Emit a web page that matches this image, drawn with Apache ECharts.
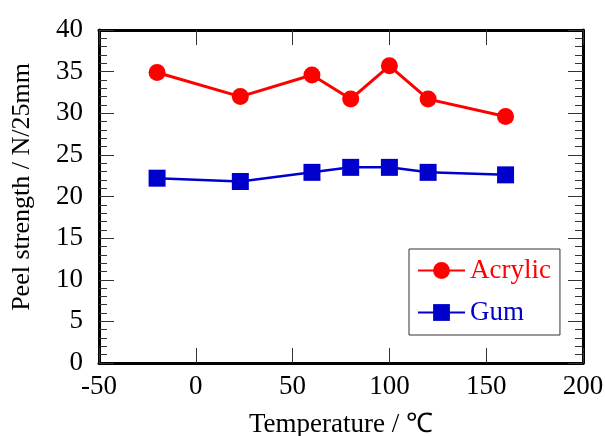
<!DOCTYPE html>
<html>
<head>
<meta charset="utf-8">
<script src="https://cdn.jsdelivr.net/npm/echarts@6/dist/echarts.min.js"></script>
<style>html,body{margin:0;padding:0;background:#fff}#c{width:605px;height:436px}</style>
</head>
<body>
<div id="c"></div>
<script>
var temps = [-20, 23, 60, 80, 100, 120, 160];
var acrylic = [34.9, 32.0, 34.6, 31.7, 35.7, 31.7, 29.6];
var gum = [22.2, 21.8, 22.9, 23.5, 23.5, 22.9, 22.6];
var seriesNames = ['Acrylic', 'Gum'];
var xTitle = 'Temperature / \u2103';
var yTitle = 'Peel strength / N/25mm';

function pairs(xs, ys) { return xs.map(function (x, i) { return [x, ys[i]]; }); }

var FONT = "'Liberation Serif', 'Times New Roman', serif";
var FS = 27;
var lineAx = { show: true, onZero: false, lineStyle: { color: '#000', width: 3 } };
var tickAx = { show: true, inside: true, length: 15, lineStyle: { color: '#333', width: 1 } };
var minorAx = { show: true, splitNumber: 5, length: 8, lineStyle: { color: '#333', width: 1 } };

var chart = echarts.init(document.getElementById('c'), null, { renderer: 'canvas' });
chart.setOption({
  animation: false,
  backgroundColor: '#fff',
  textStyle: { fontFamily: FONT },
  grid: { left: 99, right: 22, top: 30, bottom: 73, containLabel: false, outerBoundsMode: 'none' },
  graphic: [
    { type: 'text', x: 22, y: 187, rotation: Math.PI / 2,
      style: { text: yTitle, fill: '#000', font: '26px ' + FONT, textAlign: 'center', textVerticalAlign: 'middle' } }
  ],
  xAxis: [
    { type: 'value', position: 'bottom', min: -50, max: 200, interval: 50,
      axisLine: lineAx, axisTick: tickAx, splitLine: { show: false },
      axisLabel: { margin: 10, color: '#000', fontSize: FS, fontFamily: FONT },
      name: xTitle, nameLocation: 'middle', nameGap: 48,
      nameTextStyle: { color: '#000', fontSize: FS, fontFamily: FONT } },
    { type: 'value', position: 'top', min: -50, max: 200, interval: 50,
      axisLine: lineAx, axisTick: tickAx, splitLine: { show: false },
      axisLabel: { show: false } }
  ],
  yAxis: [
    { type: 'value', position: 'left', min: 0, max: 40, interval: 5,
      axisLine: lineAx, axisTick: tickAx, minorTick: minorAx, splitLine: { show: false },
      axisLabel: { margin: 16, color: '#000', fontSize: FS, fontFamily: FONT } },
    { type: 'value', position: 'right', min: 0, max: 40, interval: 5,
      axisLine: lineAx, axisTick: tickAx, minorTick: minorAx, splitLine: { show: false },
      axisLabel: { show: false } }
  ],
  legend: {
    orient: 'vertical', left: 409, top: 249,
    backgroundColor: '#fff', borderColor: '#333', borderWidth: 1,
    padding: [8, 9, 9, 8], itemGap: 15, itemWidth: 47, itemHeight: 21,
    textStyle: { fontSize: FS, fontFamily: FONT },
    data: [
      { name: seriesNames[0], textStyle: { color: '#ff0000' } },
      { name: seriesNames[1], textStyle: { color: '#0000cc' } }
    ]
  },
  series: [
    { name: seriesNames[0], type: 'line', data: pairs(temps, acrylic),
      symbol: 'circle', symbolSize: 17,
      itemStyle: { color: '#ff0000' }, lineStyle: { color: '#ff0000', width: 3 } },
    { name: seriesNames[1], type: 'line', data: pairs(temps, gum),
      symbol: 'rect', symbolSize: 17,
      itemStyle: { color: '#0000cc' }, lineStyle: { color: '#0000cc', width: 2.5 } }
  ]
});
</script>
</body>
</html>
